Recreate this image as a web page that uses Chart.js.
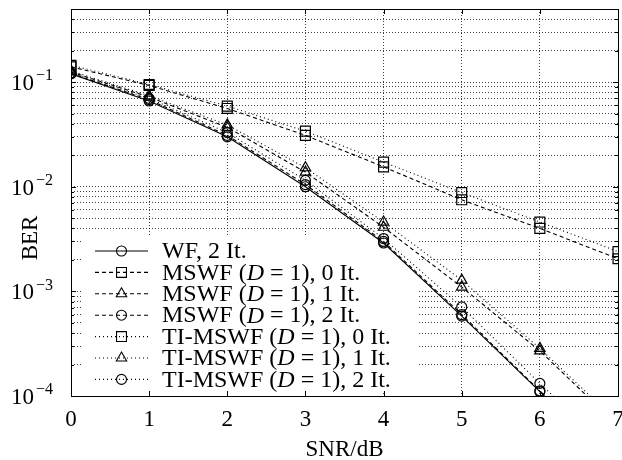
<!DOCTYPE html>
<html>
<head>
<meta charset="utf-8">
<script src="https://cdn.jsdelivr.net/npm/chart.js@4.4.0/dist/chart.umd.min.js"></script>
<style>
  html, body { margin: 0; padding: 0; background: #fff; }
</style>
</head>
<body>
<canvas id="berChart" width="622" height="460"></canvas>
<script>
// SNR in dB
const snr = [0, 1, 2, 3, 4, 5, 6, 7];

// BER curves
const wf2It      = [0.120, 0.066, 0.0300, 0.0100, 0.00290, 0.00058, 0.000110, 0.000020];
const mswf0It    = [0.140, 0.093, 0.0560, 0.0310, 0.01550, 0.00750, 0.004000, 0.002050];
const mswf1It    = [0.125, 0.072, 0.0370, 0.0138, 0.00410, 0.00110, 0.000270, 0.000052];
const mswf2It    = [0.121, 0.068, 0.0310, 0.0105, 0.00300, 0.00060, 0.000112, 0.000021];
const tiMswf0It  = [0.145, 0.095, 0.0590, 0.0340, 0.01720, 0.00880, 0.004600, 0.002400];
const tiMswf1It  = [0.128, 0.074, 0.0390, 0.0152, 0.00460, 0.00128, 0.000285, 0.000056];
const tiMswf2It  = [0.123, 0.070, 0.0330, 0.0115, 0.00320, 0.00071, 0.000132, 0.000026];

const seriesNames = [
  "WF, 2 It.",
  "MSWF (D = 1), 0 It.",
  "MSWF (D = 1), 1 It.",
  "MSWF (D = 1), 2 It.",
  "TI-MSWF (D = 1), 0 It.",
  "TI-MSWF (D = 1), 1 It.",
  "TI-MSWF (D = 1), 2 It.",
];
const seriesValues = [wf2It, mswf0It, mswf1It, mswf2It, tiMswf0It, tiMswf1It, tiMswf2It];

// axis ticks
const xTicks = [0, 1, 2, 3, 4, 5, 6, 7];
const yTickValues = [1e-4, 1e-3, 1e-2, 1e-1];
const yTickExponents = ["\u22124", "\u22123", "\u22122", "\u22121"];
const xTitle = "SNR/dB";
const yTitle = "BER";

// Styles
const FONT = "'Liberation Serif', 'DejaVu Serif', serif";
const FS = 23;
const LEGEND_FS = 24;
const DASHED = [4, 3];
const DOTTED = [1, 3];
const styles = [
  { dash: [], point: "circle", r: 5 },
  { dash: DASHED, point: "rect", r: 7 },
  { dash: DASHED, point: "triangle", r: 6 },
  { dash: DASHED, point: "circle", r: 5 },
  { dash: DOTTED, point: "rect", r: 7 },
  { dash: DOTTED, point: "triangle", r: 6 },
  { dash: DOTTED, point: "circle", r: 5 },
];

// minor + major grid positions for the log axis
const yGrid = [];
for (let e = -4; e <= -1; e++) {
  for (let m = 1; m <= 9; m++) {
    const v = m * Math.pow(10, e);
    if (v <= 0.5 + 1e-12) yGrid.push(v);
  }
}

function isDecade(v) {
  const l = Math.log10(v);
  return Math.abs(l - Math.round(l)) < 1e-9;
}

const datasets = seriesValues.map((vals, i) => ({
  label: seriesNames[i],
  data: snr.map((x, k) => ({ x: x, y: vals[k] })),
  borderColor: "#000",
  borderWidth: 1.1,
  borderDash: styles[i].dash,
  pointStyle: styles[i].point,
  pointRadius: styles[i].r,
  pointBorderWidth: 1.2,
  pointBorderColor: "#000",
  pointBackgroundColor: "rgba(0,0,0,0)",
  fill: false,
  tension: 0,
}));

// legend inside the plot (under the curves), frame, inner ticks, y labels
const innerLegend = {
  id: "innerLegend",
  beforeDatasetsDraw(chart) {
    const ctx = chart.ctx;
    ctx.save();
    ctx.fillStyle = "#fff";
    ctx.fillRect(83, 236, 336, 157);
    const rowY0 = 251, rowH = 21.4;
    seriesNames.forEach((name, i) => {
      const y = rowY0 + i * rowH;
      ctx.strokeStyle = "#000";
      ctx.lineWidth = 1.1;
      ctx.setLineDash(styles[i].dash);
      ctx.beginPath();
      ctx.moveTo(95, y);
      ctx.lineTo(148, y);
      ctx.stroke();
      ctx.setLineDash([]);
      ctx.fillStyle = "rgba(0,0,0,0)";
      Chart.helpers.drawPoint(ctx, {
        pointStyle: styles[i].point,
        radius: styles[i].r,
        rotation: 0,
        borderWidth: 1.2,
      }, 121.5, y);
      // text with italic D
      ctx.fillStyle = "#000";
      ctx.textBaseline = "middle";
      let x = 162;
      const k = name.indexOf("(D");
      const parts = k < 0 ? [[name, false]] :
        [[name.slice(0, k + 1), false], ["D", true], [name.slice(k + 2), false]];
      parts.forEach(([t, it]) => {
        ctx.font = (it ? "italic " : "") + LEGEND_FS + "px " + FONT;
        ctx.fillText(t, x, y + 1);
        x += ctx.measureText(t).width;
      });
    });
    ctx.restore();
  },
  afterDraw(chart) {
    const ctx = chart.ctx;
    const a = chart.chartArea;
    const xs = chart.scales.x, ys = chart.scales.y;
    ctx.save();
    ctx.strokeStyle = "#000";
    ctx.lineWidth = 1;
    ctx.strokeRect(Math.round(a.left) + 0.5, Math.round(a.top) + 0.5,
      Math.round(a.right - a.left), Math.round(a.bottom - a.top));
    ctx.beginPath();
    xTicks.forEach(v => {
      const px = Math.round(xs.getPixelForValue(v)) + 0.5;
      ctx.moveTo(px, a.bottom); ctx.lineTo(px, a.bottom - 5);
      ctx.moveTo(px, a.top); ctx.lineTo(px, a.top + 5);
    });
    yGrid.forEach(v => {
      const py = Math.round(ys.getPixelForValue(v)) + 0.5;
      const len = isDecade(v) ? 5 : 3;
      ctx.moveTo(a.left, py); ctx.lineTo(a.left + len, py);
      ctx.moveTo(a.right, py); ctx.lineTo(a.right - len, py);
    });
    ctx.stroke();

    // y tick labels as 10 with raised exponent
    ctx.fillStyle = "#000";
    ctx.textBaseline = "middle";
    yTickValues.forEach((v, i) => {
      const py = ys.getPixelForValue(v);
      ctx.font = FS + "px " + FONT;
      ctx.textAlign = "right";
      ctx.fillText("10", 34, py + 2);
      ctx.font = "16px " + FONT;
      ctx.textAlign = "left";
      ctx.fillText(yTickExponents[i], 36, py - 6);
    });

    // y axis title
    ctx.font = FS + "px " + FONT;
    ctx.textAlign = "center";
    ctx.translate(31, 238);
    ctx.rotate(-Math.PI / 2);
    ctx.fillText(yTitle, 0, 0);
    ctx.restore();
  },
};

new Chart(document.getElementById("berChart"), {
  type: "line",
  data: { datasets: datasets },
  options: {
    responsive: false,
    animation: false,
    devicePixelRatio: 1,
    layout: { autoPadding: false, padding: { top: 9, right: 4, left: 0, bottom: 0 } },
    plugins: { legend: { display: false }, tooltip: { enabled: false } },
    scales: {
      x: {
        type: "linear",
        min: 0,
        max: 7,
        afterBuildTicks(scale) { scale.ticks = xTicks.map(v => ({ value: v })); },
        afterFit(scale) {
          scale.height = 64;
          scale.paddingLeft = 0;
          scale.paddingRight = 0;
        },
        ticks: {
          color: "#000",
          font: { family: FONT, size: FS },
          padding: 10,
          maxRotation: 0,
          callback: (v) => String(v),
        },
        grid: { color: "rgba(0,0,0,0.75)", drawTicks: false, lineWidth: 1 },
        border: { display: false, dash: [1, 2] },
        title: {
          display: true,
          text: xTitle,
          color: "#000",
          font: { family: FONT, size: FS },
          padding: { top: 0, bottom: -4 },
        },
      },
      y: {
        type: "logarithmic",
        min: 1e-4,
        max: 0.5,
        afterBuildTicks(scale) { scale.ticks = yGrid.map(v => ({ value: v })); },
        afterFit(scale) {
          scale.width = 71;
          scale.paddingTop = 0;
          scale.paddingBottom = 0;
        },
        ticks: {
          autoSkip: false,
          font: { family: FONT, size: 4 },
          callback: () => "",
        },
        grid: { color: "rgba(0,0,0,0.75)", drawTicks: false, lineWidth: 1 },
        border: { display: false, dash: [1, 2] },
      },
    },
  },
  plugins: [innerLegend],
});
</script>
</body>
</html>
